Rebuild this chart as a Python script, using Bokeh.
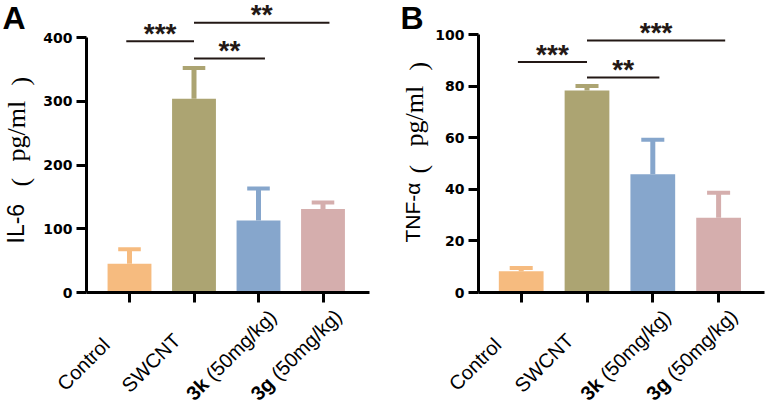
import math
import numpy as np
from bokeh.plotting import figure
from bokeh.models import Range1d, FixedTicker, Label, ColumnDataSource, CustomJSTickFormatter, LinearAxis
from bokeh.layouts import row
from bokeh.embed import file_html
from bokeh.resources import INLINE

# ---- data -------------------------------------------------------------
groups = ["Control", "SWCNT", "3k", "3g"]
group_bold = ["", "", "3k", "3g"]
group_rest = ["Control", "SWCNT", "(50mg/kg)", "(50mg/kg)"]
colors = ["#F6BB7F", "#ACA472", "#86A6CC", "#D5AEAD"]

il6_mean = [45, 304, 113, 131]
il6_sd = [23, 48, 50, 10]
il6_ticks = [0, 100, 200, 300, 400]
# (from group, to group, mark, bracket height)
il6_sig = [(0, 1, "***", 394), (1, 2, "**", 367), (1, 3, "**", 423)]

tnf_mean = [8.2, 78.3, 45.8, 29.0]
tnf_sd = [1.3, 1.7, 13.4, 9.7]
tnf_ticks = [0, 20, 40, 60, 80, 100]
tnf_sig = [(0, 1, "***", 89.3), (1, 2, "**", 83.3), (1, 3, "***", 97.7)]

INK = "#231815"
SANS = "Liberation Sans"
SERIF = "Liberation Serif"
XLAB_SIZE = 20
PANEL_W, PANEL_H = 383, 405

# Arial-metric advance widths (per 1000 em) for the tick-label text
_REG = {" ": 278, "(": 333, ")": 333, "/": 278, "0": 556, "5": 556, "C": 722,
        "N": 722, "S": 667, "T": 611, "W": 944, "g": 556, "k": 500, "l": 222,
        "m": 833, "n": 556, "o": 556, "r": 333, "t": 278}
_BOLD = {" ": 278, "3": 556, "k": 556, "g": 611}


def text_w(s, bold=False, size=XLAB_SIZE):
    table = _BOLD if bold else _REG
    return sum(table.get(ch, 556) for ch in s) * size / 1000.0


def make_panel(letter, marker, means, sds, ticks, sig, geo, ylab):
    # geo: pixel layout of the panel -> first bar centre, bar pitch,
    # y-axis position, x-axis end, baseline row, plotted height of top tick
    c0, pitch, ax_px, ax_end_px, base_px, top_px = geo
    ppu = (base_px - top_px) / ticks[-1]
    x_lo = (0 - c0) / pitch
    x_hi = (PANEL_W - c0) / pitch
    y_lo = -(PANEL_H - base_px) / ppu
    y_hi = base_px / ppu
    ax_x = (ax_px - c0) / pitch
    ax_x_end = (ax_end_px - c0) / pitch

    n = len(groups)
    xs = np.arange(n)
    means = np.asarray(means, dtype=float)
    sds = np.asarray(sds, dtype=float)

    p = figure(width=PANEL_W, height=PANEL_H, output_backend="svg", toolbar_location=None,
               x_range=Range1d(x_lo, x_hi), y_range=Range1d(y_lo, y_hi),
               x_axis_location=None, y_axis_location=None,
               min_border=0)
    p.outline_line_color = None
    p.grid.visible = False
    p.background_fill_color = "white"
    p.border_fill_color = "white"

    src = ColumnDataSource(dict(x=xs, top=means, hi=means + sds,
                                cl=xs - 0.175, cr=xs + 0.175, color=colors))
    p.vbar(x="x", top="top", width=0.68, fill_color="color", line_color=None, source=src)
    # upper error bars with caps
    p.segment(x0="x", y0="top", x1="x", y1="hi", line_color="color", line_width=5, source=src)
    p.segment(x0="cl", y0="hi", x1="cr", y1="hi", line_color="color", line_width=4, source=src)

    # significance brackets
    for a, b, mark, lvl in sig:
        x0 = a - 0.05 if a == 0 else a
        x1 = b if a == 0 else b + 0.1
        p.segment(x0=[x0], y0=[lvl], x1=[x1], y1=[lvl], line_color=INK, line_width=2)
        p.add_layout(Label(x=(x0 + x1) / 2, y=lvl, text=mark, text_align="center",
                           text_baseline="alphabetic", y_offset=8,
                           text_font=SANS, text_font_style="bold",
                           text_font_size="28px", text_color=INK))

    # axes drawn at fixed data positions
    ya = LinearAxis(fixed_location=ax_x, bounds=(0, ticks[-1]),
                    ticker=FixedTicker(ticks=ticks))
    ya.axis_line_width = 3
    ya.major_tick_line_width = 3
    ya.major_tick_out = 10
    ya.major_tick_in = 0
    ya.minor_tick_line_color = None
    ya.major_label_standoff = 4
    ya.major_label_text_font = "DejaVu Sans"
    ya.major_label_text_font_style = "bold"
    ya.major_label_text_font_size = "14px"
    ya.major_label_text_color = "black"
    p.add_layout(ya, "left")

    xa = LinearAxis(fixed_location=0, bounds=(ax_x, ax_x_end),
                    ticker=FixedTicker(ticks=list(xs)),
                    formatter=CustomJSTickFormatter(code="return ''"))
    xa.axis_line_width = 3
    xa.major_tick_line_width = 3
    xa.major_tick_out = 10
    xa.major_tick_in = 0
    xa.minor_tick_line_color = None
    p.add_layout(xa, "below")

    # rotated category labels, bold compound code followed by the dose
    c = math.cos(math.pi / 4)
    for i in range(n):
        bold = group_bold[i]
        rest = group_rest[i]
        wb = text_w(bold + " ", bold=True) if bold else 0.0
        total = wb + text_w(rest)
        dx = -69
        dy = -(83 + 0.18 * total)
        if bold:
            p.add_layout(Label(x=i, y=0, x_offset=dx, y_offset=dy, text=bold,
                               angle=math.pi / 4, text_align="left",
                               text_baseline="alphabetic", text_font=SANS,
                               text_font_style="bold", text_font_size=f"{XLAB_SIZE}px",
                               text_color="black"))
        p.add_layout(Label(x=i, y=0, x_offset=dx + wb * c, y_offset=dy + wb * c, text=rest,
                           angle=math.pi / 4, text_align="left",
                           text_baseline="alphabetic", text_font=SANS,
                           text_font_size=f"{XLAB_SIZE}px", text_color="black"))

    # y-axis title: marker name in sans, unit in serif with wide parentheses
    name_dx, name_up, name_size, unit_dx, open_up, unit_up, close_up = ylab
    common = dict(x=ax_x, y=0, angle=math.pi / 2, text_align="left",
                  text_baseline="middle", text_color="black")
    p.add_layout(Label(x_offset=name_dx, y_offset=name_up, text=marker,
                       text_font=SANS, text_font_size=f"{name_size}px", **common))
    for txt, up, shift in (("(", open_up, 4), ("pg/ml", unit_up, 0), (")", close_up, 4)):
        p.add_layout(Label(x_offset=unit_dx + shift, y_offset=up, text=txt,
                           text_font=SERIF, text_font_size="26px", **common))

    # panel letter
    p.add_layout(Label(x=ax_x, y=0, x_offset=letter[1], y_offset=base_px - 17, text=letter[0],
                       text_align="left", text_baseline="alphabetic",
                       text_font=SANS, text_font_style="bold",
                       text_font_size="32px", text_color="black"))
    return p


pa = make_panel(("A", -84), "IL-6", il6_mean, il6_sd, il6_ticks, il6_sig,
                geo=(129, 64.5, 86, 369, 292, 37),
                ylab=(-71, 49, 23, -70, 106, 131, 207))
pb = make_panel(("B", -78), "TNF-α", tnf_mean, tnf_sd, tnf_ticks, tnf_sig,
                geo=(137.7, 65.8, 95, 381, 292, 34),
                ylab=(-66, 50, 21, -64, 119, 146, 222))

layout = row(pa, pb)
open("out.html", "w").write(file_html(layout, INLINE))
